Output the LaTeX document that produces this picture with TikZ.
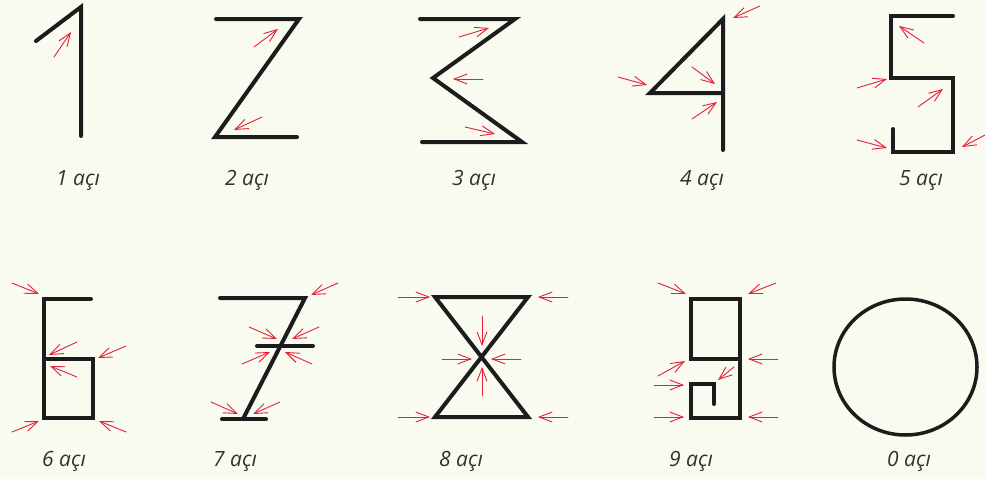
\documentclass[tikz,border=0pt]{standalone}
\usepackage{fontspec}
\setmainfont{Open Sans}
\usepackage{tikz}
\usetikzlibrary{arrows.meta}
\usepackage{tkz-euclide}
\definecolor{paper}{RGB}{249,250,240}
\definecolor{inkblack}{RGB}{28,28,28}
\definecolor{tickred}{RGB}{226,32,58}
\definecolor{labelgray}{RGB}{50,50,50}

\begin{document}
\begin{tikzpicture}[x=1pt, y=-1pt,
    digit/.style={line width=4pt, draw=inkblack, line join=miter},
    hint/.style={draw=tickred, line width=0.9pt, -{Straight Barb[length=13pt, width=10pt]}},
    caption/.style={font=\fontsize{21}{24}\selectfont\itshape, text=labelgray, anchor=base}]
    \fill[paper] (0,0) rectangle (985,479);
    \useasboundingbox (0,0) rectangle (985,479);
                % 1
                \tkzDefPoints{36/41/A1, 81/7/B1, 81/136/C1, 54/57/a1, 71/32/b1, 78/185/L1}
                \tkzDrawPolySeg[digit](A1,B1,C1)
                \tkzDrawSegments[hint](a1,b1)
                % 2
                \tkzDefPoints{216/19/A2, 299/19/B2, 215/137/C2, 297/137/D2, 247/185/L2}
                \tkzDefPoints{254/47/a2, 278/29/b2, 262/117/c2, 234/130/d2}
                \tkzDrawPolySeg[digit](A2,B2,C2,D2)
                \tkzDrawSegments[hint](a2,b2 c2,d2)
                % 3
                \tkzDefPoints{420/19/A3, 515/19/B3, 433/78/C3, 522/142/D3, 422/142/E3, 474/185/L3}
                \tkzDefPoints{459/37/a3, 489/28/b3, 483/79/c3, 453/79/d3, 465/127/e3, 495/134/f3}
                \tkzDrawPolySeg[digit](A3,B3,C3,D3,E3)
                \tkzDrawSegments[hint](a3,b3 c3,d3 e3,f3)
                % 4
                \tkzDefPoints{723/150/A4, 723/19/B4, 650/93/C4, 723/93/D4, 702/185/L4}
                \tkzDefPoints{760/6/a4, 733/18/b4, 618/77/c4, 647/85/d4, 692/67/e4, 715/84/f4, 692/119/g4, 717/102/h4}
                \tkzDrawPolySeg[digit](A4,B4,C4,D4)
                \tkzDrawSegments[hint](a4,b4 c4,d4 e4,f4 g4,h4)
                % 5
                \tkzDefPoints{953/16/A5, 891/16/B5, 891/78/C5, 953/78/D5, 953/152/E5, 893/152/F5, 893/129/G5, 921/185/L5}
                \tkzDefPoints{924/43/a5, 899/26/b5, 857/88/c5, 887/79/d5, 918/107/e5, 943/89/f5}
                \tkzDefPoints{857/140/g5, 887/148/h5, 985/135/i5, 962/147/j5}
                \tkzDrawPolySeg[digit](A5,B5,C5,D5,E5,F5,G5)
                \tkzDrawSegments[hint](a5,b5 c5,d5 e5,f5 g5,h5 i5,j5)
                % 6
                \tkzDefPoints{91/299/A6, 44/299/B6, 44/418/C6, 93/418/D6, 93/359/E6, 44/359/F6, 64/466/L6}
                \tkzDefPoints{12/283/a6, 39/294/b6, 77/342/c6, 49/355/d6, 77/377/e6, 50/366/f6}
                \tkzDefPoints{126/346/g6, 98/358/h6, 12/432/i6, 39/421/j6, 126/432/k6, 99/421/l6}
                \tkzDrawPolySeg[digit](A6,B6,C6,D6,E6,F6)
                \tkzDrawSegments[hint](a6,b6 c6,d6 e6,f6 g6,h6 i6,j6 k6,l6)
                % 7
                \tkzDefPoints{220/298/A7, 305/298/B7, 243/419/C7, 257/346/D7, 313/346/E7, 222/419/F7, 266/419/G7, 235/466/L7}
                \tkzDefPoints{338/283/a7, 311/295/b7, 249/327/c7, 277/339/d7, 319/327/e7, 292/339/f7}
                \tkzDefPoints{242/364/g7, 270/352/h7, 312/364/i7, 285/352/j7, 211/402/k7, 238/414/l7, 280/402/m7, 253/414/n7}
                \tkzDrawPolySeg[digit](A7,B7,C7)
                \tkzDrawSegments[digit](D7,E7 F7,G7)
                \tkzDrawSegments[hint](a7,b7 c7,d7 e7,f7 g7,h7 i7,j7 k7,l7 m7,n7)
                % 8
                \tkzDefPoints{435/297/A8, 528/297/B8, 435/417/C8, 528/417/D8, 461/466/L8}
                \tkzDefPoints{398/297/a8, 430/297/b8, 568/297/c8, 538/297/d8, 398/417/e8, 430/417/f8, 568/417/g8, 538/417/h8}
                \tkzDefPoints{482/316/i8, 482/346/j8, 482/396/k8, 482/367/l8, 442/359/m8, 472/359/n8, 521/359/o8, 491/359/p8}
                \tkzDrawPolygon[digit](A8,B8,C8,D8)
                \tkzDrawSegments[hint](a8,b8 c8,d8 e8,f8 g8,h8 i8,j8 k8,l8 m8,n8 o8,p8)
                % 9
                \tkzDefPoints{740/359/A9, 691/359/B9, 691/299/C9, 740/299/D9, 740/418/E9, 691/418/F9, 691/384/G9, 714/384/H9, 714/404/I9, 691/466/L9}
                \tkzDefPoints{658/283/a9, 686/294/b9, 776/283/c9, 748/294/d9, 658/376/e9, 685/361/f9, 778/359/g9, 748/359/h9}
                \tkzDefPoints{654/385/i9, 684/385/j9, 734/367/k9, 718/380/l9, 654/417/m9, 684/417/n9, 778/417/o9, 748/417/p9}
                \tkzDrawPolySeg[digit](A9,B9,C9,D9,E9,F9,G9,H9,I9)
                \tkzDrawSegments[hint](a9,b9 c9,d9 e9,f9 g9,h9 i9,j9 k9,l9 m9,n9 o9,p9)
                % 0
                \tkzDefPoints{905.5/367/O0, 909/466/L0}
                \draw[digit, line width=3.5pt] (O0) ellipse [x radius=71.5, y radius=68];
                % labels
                \node[caption] (cap1) at (L1) {1 açı};
                \node[caption] (cap2) at (L2) {2 açı};
                \node[caption] (cap3) at (L3) {3 açı};
                \node[caption] (cap4) at (L4) {4 açı};
                \node[caption] (cap5) at (L5) {5 açı};
                \node[caption] (cap6) at (L6) {6 açı};
                \node[caption] (cap7) at (L7) {7 açı};
                \node[caption] (cap8) at (L8) {8 açı};
                \node[caption] (cap9) at (L9) {9 açı};
                \node[caption] (cap0) at (L0) {0 açı};
            \end{tikzpicture}
\end{document}
